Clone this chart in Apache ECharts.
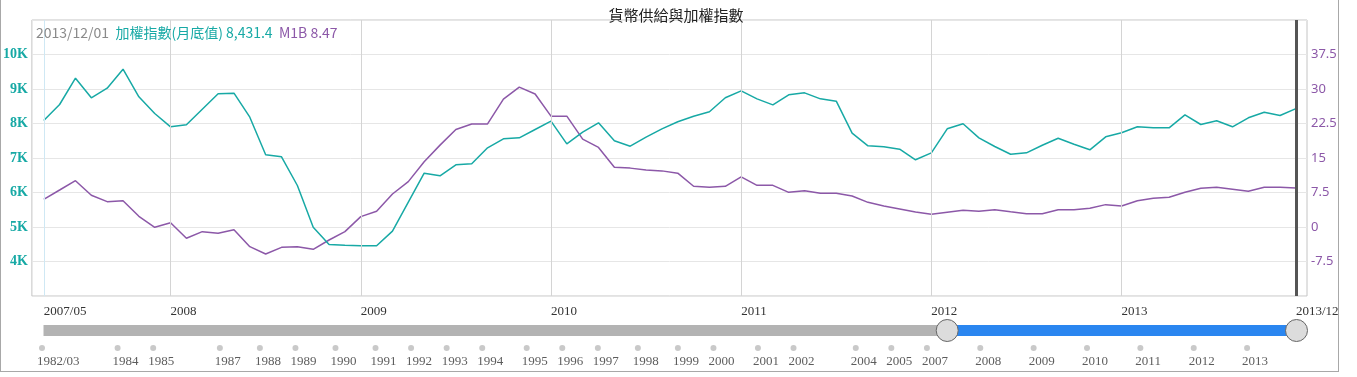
<!DOCTYPE html>
<html>
<head>
<meta charset="utf-8">
<title>貨幣供給與加權指數</title>
<script src="https://cdn.jsdelivr.net/npm/echarts@6/dist/echarts.min.js"></script>
<style>
    body { margin: 0; background: #fff; }
    #main { position: absolute; left: 0; top: 0; width: 1357px; height: 377px; }
    #frame {
        position: absolute; left: 0; top: 0; width: 1337px; height: 371px;
        border-left: 1px solid #a8a8a8; border-right: 1px solid #a8a8a8; border-bottom: 1px solid #a8a8a8;
        pointer-events: none;
    }
</style>
</head>
<body>
<div id="main"></div>
<div id="frame"></div>
<script>
// Monthly data, 2007/05 .. 2013/12
const startYear = 2007, startMonth = 5;

// 加權指數 (月底值)
const taiexValues = [
    8087, 8551, 9313, 8745, 9023, 9574, 8774, 8290,
    7904, 7962, 8415, 8860, 8879, 8183, 7093, 7035, 6203, 4995, 4493, 4473,
    4455, 4455, 4879, 5720, 6560, 6483, 6802, 6831, 7296, 7556, 7585, 7826,
    8067, 7410, 7749, 8020, 7499, 7342, 7604, 7846, 8050, 8212, 8339, 8745,
    8947, 8715, 8541, 8831, 8889, 8715, 8647, 7719, 7353, 7324, 7256, 6948,
    7150, 7846, 7991, 7585, 7333, 7110, 7150, 7371, 7574, 7400, 7237, 7613,
    7730, 7904, 7875, 7875, 8252, 7971, 8078, 7904, 8165, 8328, 8232, 8431.4
];

// M1B 年增率
const m1bValues = [
    6.02, 8.04, 10.07, 6.89, 5.51, 5.72, 2.32, -0.07,
    0.94, -2.46, -1.01, -1.38, -0.58, -4.28, -5.87, -4.42, -4.28, -4.86, -2.83, -1.01,
    2.25, 3.41, 7.17, 9.86, 14.2, 17.8, 21.2, 22.4, 22.4, 27.8, 30.4, 28.9,
    24.1, 24.1, 19.1, 17.3, 13.0, 12.8, 12.4, 12.2, 11.7, 8.85, 8.63, 8.85,
    10.9, 9.06, 9.06, 7.54, 7.9, 7.32, 7.32, 6.74, 5.36, 4.57, 3.91, 3.26,
    2.79, 3.22, 3.62, 3.41, 3.77, 3.33, 2.9, 2.9, 3.77, 3.77, 4.06, 4.86,
    4.57, 5.72, 6.23, 6.45, 7.54, 8.41, 8.63, 8.19, 7.76, 8.63, 8.63, 8.47
];

// x axis ticks (month index) and their labels
const xTickIdx = [0, 8, 20, 32, 44, 56, 68, 79];
const xTickLabels = ['2007/05', '2008', '2009', '2010', '2011', '2012', '2013', '2013/12'];

// left / right axis ranges
const leftMin = 3000, leftMax = 11000, leftStep = 1000;
const rightMin = -15, rightMax = 45, rightStep = 7.5;

// Timeline under the slider (position = index in the full data set)
const tlLabels = ['1982/03', '1984', '1985', '1987', '1988', '1989', '1990', '1991', '1992', '1993',
    '1994', '1995', '1996', '1997', '1998', '1999', '2000', '2001', '2002', '2004',
    '2005', '2007', '2008', '2009', '2010', '2011', '2012', '2013'];
const tlPos = [0, 17, 25, 40, 49, 57, 66, 75, 83, 91,
    99, 109, 117, 125, 134, 143, 151, 161, 169, 183,
    191, 199, 211, 223, 235, 247, 259, 271];
const tlMax = 282;
const zoomStart = 203;

const teal = '#17a9a5';
const purple = '#8c58a8';

// month labels
const months = taiexValues.map((v, i) => {
    const m = startMonth - 1 + i;
    const y = startYear + Math.floor(m / 12);
    const mm = (m % 12) + 1;
    return y + '/' + (mm < 10 ? '0' + mm : mm);
});

const last = taiexValues.length - 1;
const headerText =
    '{d|' + months[last] + '/01}  ' +
    '{a|加權指數(月底值) ' + taiexValues[last].toLocaleString('en-US', { minimumFractionDigits: 1 }) + '}  ' +
    '{b|M1B ' + m1bValues[last].toFixed(2) + '}';

const headFont = { fontSize: 14, fontWeight: 'normal', fontFamily: 'Noto Sans CJK TC' };

const chart = echarts.init(document.getElementById('main'));

const option = {
    animation: false,
    title: [{
        text: '貨幣供給與加權指數',
        left: 671,
        textAlign: 'center',
        top: 3,
        textStyle: { fontSize: 15, fontWeight: 'normal', color: '#222', fontFamily: 'Noto Sans CJK TC' }
    }, {
        text: headerText,
        left: 31,
        top: 21,
        textStyle: Object.assign({
            rich: {
                d: Object.assign({ color: '#8a8a8a' }, headFont),
                a: Object.assign({ color: teal }, headFont),
                b: Object.assign({ color: purple }, headFont)
            }
        }, headFont)
    }],
    grid: [{
        left: 30, right: 50, top: 20, bottom: 81,
        show: true, borderColor: '#c4c4c4', borderWidth: 1, backgroundColor: 'transparent'
    }, {
        left: 42, right: 61, top: 340, height: 16
    }],
    xAxis: [{
        type: 'value',
        gridIndex: 0,
        min: -0.75,
        max: 79.7,
        axisLine: { show: false },
        axisTick: { show: true, customValues: xTickIdx, length: 4, lineStyle: { color: '#c8c8c8' } },
        splitLine: { show: false },
        axisLabel: {
            customValues: xTickIdx,
            margin: 9,
            align: 'left',
            fontSize: 13,
            fontFamily: 'Liberation Serif',
            color: '#333',
            formatter: v => xTickLabels[xTickIdx.indexOf(v)]
        }
    }, {
        type: 'value', gridIndex: 1, min: 0, max: tlMax, show: false
    }, {
        type: 'value', gridIndex: 1, min: 0, max: tlMax, show: false
    }],
    yAxis: [{
        type: 'value',
        gridIndex: 0,
        min: leftMin, max: leftMax, interval: leftStep,
        axisLine: { show: false },
        axisTick: { show: false },
        splitLine: { lineStyle: { color: '#e6e6e6' } },
        axisLabel: {
            showMinLabel: false, showMaxLabel: false,
            margin: 4,
            padding: [0, 0, 9, 0],
            color: teal,
            fontWeight: 'bold',
            fontSize: 14,
            fontFamily: 'Liberation Serif',
            formatter: v => (v / 1000) + 'K'
        }
    }, {
        type: 'value',
        gridIndex: 0,
        position: 'right',
        min: rightMin, max: rightMax, interval: rightStep,
        axisLine: { show: false },
        axisTick: { show: false },
        splitLine: { show: false },
        axisLabel: {
            showMinLabel: false, showMaxLabel: false,
            margin: 4,
            padding: [0, 0, 8, 0],
            color: purple,
            fontSize: 13,
            fontFamily: 'Noto Sans'
        }
    }, {
        type: 'value', gridIndex: 1, min: 0, max: 1, show: false
    }],
    dataZoom: [{
        type: 'slider',
        xAxisIndex: 2,
        filterMode: 'none',
        startValue: zoomStart,
        endValue: tlMax,
        left: 42, right: 61, top: 325, height: 11,
        backgroundColor: '#b3b3b3',
        borderColor: 'transparent',
        borderRadius: 6,
        fillerColor: '#2a86f0',
        showDetail: false,
        showDataShadow: false,
        brushSelect: false,
        moveHandleSize: 0,
        zoomLock: true,
        handleIcon: 'path://M0,-10A10,10,0,1,1,0,10A10,10,0,1,1,0,-10Z',
        handleSize: '200%',
        handleStyle: { color: '#dcdcdc', borderColor: '#666', borderWidth: 1 },
        dataBackground: { lineStyle: { opacity: 0 }, areaStyle: { opacity: 0 } },
        selectedDataBackground: { lineStyle: { opacity: 0 }, areaStyle: { opacity: 0 } }
    }],
    series: [{
        // vertical grid lines and cursor lines
        type: 'line',
        xAxisIndex: 0, yAxisIndex: 0,
        data: [],
        silent: true,
        z: 1,
        markLine: {
            silent: true,
            symbol: 'none',
            label: { show: false },
            animation: false,
            lineStyle: { color: '#d4d4d4', width: 1, type: 'solid' },
            data: xTickIdx.slice(1, -1).map(v => ({ xAxis: v })).concat([
                { xAxis: xTickIdx[0], lineStyle: { color: '#cfe8f4', width: 1, type: 'solid' } },
                { xAxis: xTickIdx[xTickIdx.length - 1], lineStyle: { color: '#555', width: 3, type: 'solid' } }
            ])
        }
    }, {
        name: '加權指數',
        type: 'line',
        xAxisIndex: 0, yAxisIndex: 0,
        showSymbol: false,
        z: 3,
        lineStyle: { color: teal, width: 1.5 },
        itemStyle: { color: teal },
        data: taiexValues.map((v, i) => [i, v])
    }, {
        name: 'M1B',
        type: 'line',
        xAxisIndex: 0, yAxisIndex: 1,
        showSymbol: false,
        z: 2,
        lineStyle: { color: purple, width: 1.5 },
        itemStyle: { color: purple },
        data: m1bValues.map((v, i) => [i, v])
    }, {
        // timeline dots
        type: 'scatter',
        xAxisIndex: 1, yAxisIndex: 2,
        symbolSize: 6,
        silent: true,
        itemStyle: { color: '#bbbbbb' },
        label: {
            show: true,
            position: 'bottom',
            distance: 4,
            align: 'left',
            offset: [-5, 0],
            fontSize: 13,
            fontFamily: 'Liberation Serif',
            color: '#333',
            formatter: p => tlLabels[p.dataIndex]
        },
        data: tlPos.map(v => [v, 0.5])
    }, {
        // carrier for the slider axis
        type: 'line',
        xAxisIndex: 2, yAxisIndex: 2,
        showSymbol: false,
        silent: true,
        lineStyle: { opacity: 0 },
        data: [[0, 0], [tlMax, 0]]
    }]
};

chart.setOption(option);
</script>
</body>
</html>
